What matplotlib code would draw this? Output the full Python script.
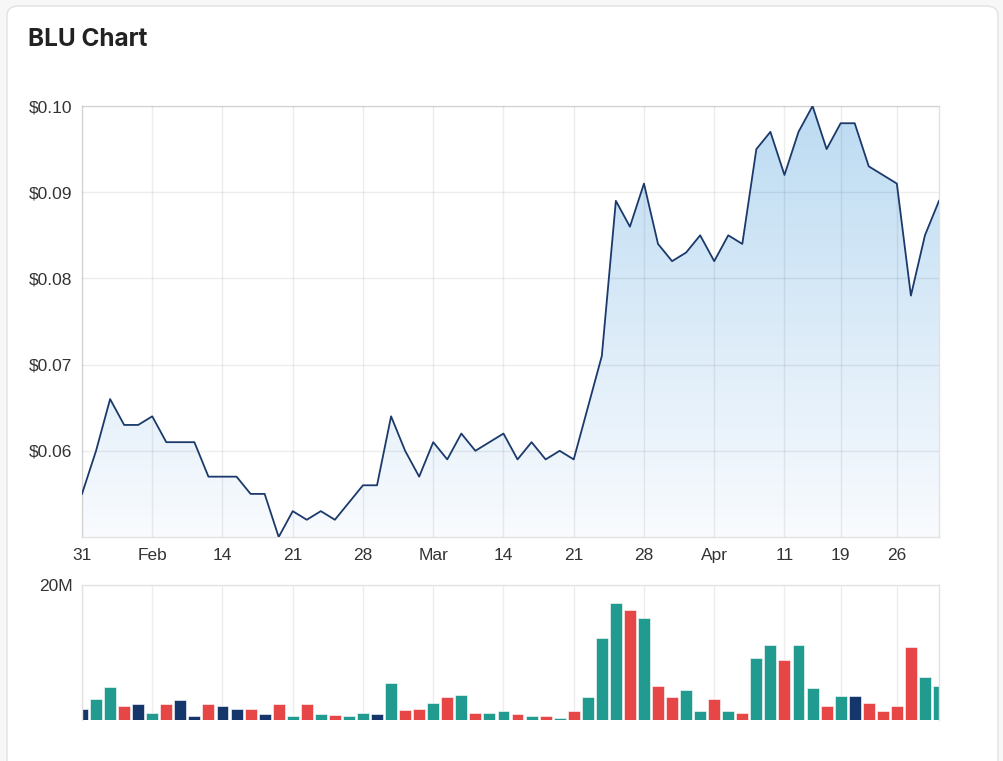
import numpy as np
import matplotlib
matplotlib.use('Agg')
import matplotlib.pyplot as plt
from matplotlib.patches import FancyBboxPatch

# trading days Jan 31 - Apr 29 (index positions on the x axis)
tick_pos = [0, 5, 10, 15, 20, 25, 30, 35, 40, 45, 50, 54, 58]
tick_labels = ['31', 'Feb', '14', '21', '28', 'Mar', '14', '21', '28', 'Apr', '11', '19', '26']

price = [0.055, 0.060, 0.066, 0.063, 0.063, 0.064, 0.061, 0.061, 0.061, 0.057,
         0.057, 0.057, 0.055, 0.055, 0.050, 0.053, 0.052, 0.053, 0.052, 0.054,
         0.056, 0.056, 0.064, 0.060, 0.057, 0.061, 0.059, 0.062, 0.060, 0.061,
         0.062, 0.059, 0.061, 0.059, 0.060, 0.059, 0.065, 0.071, 0.089, 0.086,
         0.091, 0.084, 0.082, 0.083, 0.085, 0.082, 0.085, 0.084, 0.095, 0.097,
         0.092, 0.097, 0.100, 0.095, 0.098, 0.098, 0.093, 0.092, 0.091, 0.078,
         0.085, 0.089]

# volume in millions
volume = [1.7, 3.1, 4.9, 2.1, 2.3, 1.1, 2.3, 2.9, 0.55, 2.3,
          2.1, 1.7, 1.7, 0.9, 2.3, 0.55, 2.3, 0.9, 0.75, 0.55,
          1.1, 0.9, 5.5, 1.5, 1.7, 2.5, 3.4, 3.7, 1.1, 1.1,
          1.3, 0.9, 0.55, 0.55, 0.3, 1.3, 3.4, 12.2, 17.4, 16.3,
          15.1, 5.1, 3.4, 4.5, 1.3, 3.1, 1.3, 1.1, 9.2, 11.1,
          8.9, 11.1, 4.75, 2.1, 3.5, 3.5, 2.5, 1.3, 2.1, 10.8,
          6.3, 5.1]

UP = '#219a8f'
DOWN = '#e64646'
FLAT = '#15366b'
LINE = '#1b3a6b'
TEXT = '#333333'

plt.rcParams['font.family'] = ['Liberation Sans', 'DejaVu Sans']

x = np.arange(len(price))
p = np.array(price)
bar_colors = [FLAT] + [UP if d > 0 else DOWN if d < 0 else FLAT for d in np.diff(p)]

W, H = 1004, 761
fig = plt.figure(figsize=(W / 100, H / 100), dpi=100)
fig.patch.set_facecolor('#f7f7f7')

card = FancyBboxPatch((7 / W, -0.02), 991 / W, (H - 6) / H + 0.02,
                      boxstyle='round,pad=0,rounding_size=0.012',
                      transform=fig.transFigure, facecolor='white',
                      edgecolor='#e2e2e2', linewidth=1.0, zorder=-5)
fig.patches.append(card)

fig.text(28 / W, 1 - 40 / H, 'BLU Chart', fontsize=17.5, fontweight='bold',
         family=['Inter', 'DejaVu Sans'], color='#222222', va='center', ha='left')

ax = fig.add_axes([82 / W, (H - 537) / H, 857 / W, 431 / H])
axv = fig.add_axes([82 / W, (H - 720) / H, 857 / W, 135 / H])

xmin, xmax = 0, len(price) - 1
ymin, ymax = 0.05, 0.10

# gradient area under the price line
top_c = np.array([188, 219, 242]) / 255
bot_c = np.array([249, 251, 254]) / 255
t = np.linspace(0, 1, 256)[:, None]
grad = np.zeros((256, 1, 4))
grad[:, 0, :3] = bot_c + (top_c - bot_c) * t
grad[:, 0, 3] = 1
poly = ax.fill_between(x, p, ymin, color='none', lw=0)
im = ax.imshow(grad, extent=[xmin, xmax, ymin, ymax], origin='lower',
               aspect='auto', zorder=1)
im.set_clip_path(poly.get_paths()[0], transform=ax.transData)
ax.plot(x, p, color=LINE, lw=1.3, zorder=4)

ax.set_xlim(xmin, xmax)
ax.set_ylim(ymin, ymax)
ax.set_yticks([0.06, 0.07, 0.08, 0.09, 0.10])
ax.set_yticklabels(['$0.06', '$0.07', '$0.08', '$0.09', '$0.10'])
ax.set_xticks(tick_pos)
ax.set_xticklabels(tick_labels)
ax.grid(True, color='black', alpha=0.07, lw=1, zorder=2)
ax.set_axisbelow(False)
ax.tick_params(length=0, labelsize=12.5, colors=TEXT)
ax.tick_params(axis='y', pad=7)
ax.tick_params(axis='x', pad=8)
for s in ax.spines.values():
    s.set_color('#e2e2e2')
    s.set_linewidth(1)

axv.bar(x, volume, width=0.85, color=bar_colors, edgecolor='white',
        linewidth=0.4, zorder=2)
axv.set_xlim(xmin, xmax)
axv.set_ylim(0, 20)
axv.set_yticks([20])
axv.set_yticklabels(['20M'])
axv.set_xticks(tick_pos)
axv.set_xticklabels([])
axv.grid(True, axis='x', color='black', alpha=0.07, lw=1, zorder=0)
axv.set_axisbelow(True)
axv.tick_params(length=0, labelsize=12.5, colors=TEXT)
axv.tick_params(axis='y', pad=7)
for s in axv.spines.values():
    s.set_color('#e2e2e2')
    s.set_linewidth(1)
axv.spines['bottom'].set_visible(False)

fig.savefig('out.png', dpi=100, facecolor=fig.get_facecolor())
